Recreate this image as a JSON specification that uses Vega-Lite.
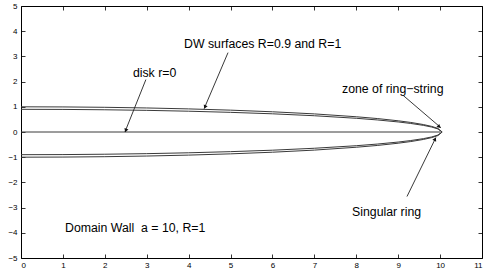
{
  "$schema": "https://vega.github.io/schema/vega-lite/v6.json",
  "width": 461,
  "height": 252,
  "autosize": {"type": "none"},
  "padding": {"left": 21, "top": 6, "right": 9, "bottom": 15},
  "background": "white",
  "config": {
    "view": {"stroke": "black", "strokeWidth": 1},
    "font": "Liberation Sans",
    "axis": {"grid": false, "domain": false, "tickColor": "black", "labelColor": "black", "labelFont": "Liberation Sans", "labelFontSize": 8, "tickSize": -4, "tickWidth": 0.8, "title": null}
  },
  "datasets": {
    "curves": [
      {"series": "R1", "ord": 0, "x": 0, "y": 1.0},
      {"series": "R1", "ord": 1, "x": 1, "y": 0.995},
      {"series": "R1", "ord": 2, "x": 2, "y": 0.980},
      {"series": "R1", "ord": 3, "x": 3, "y": 0.954},
      {"series": "R1", "ord": 4, "x": 4, "y": 0.917},
      {"series": "R1", "ord": 5, "x": 5, "y": 0.867},
      {"series": "R1", "ord": 6, "x": 6, "y": 0.802},
      {"series": "R1", "ord": 7, "x": 7, "y": 0.718},
      {"series": "R1", "ord": 8, "x": 8, "y": 0.605},
      {"series": "R1", "ord": 9, "x": 8.5, "y": 0.534},
      {"series": "R1", "ord": 10, "x": 9, "y": 0.445},
      {"series": "R1", "ord": 11, "x": 9.3, "y": 0.379},
      {"series": "R1", "ord": 12, "x": 9.6, "y": 0.296},
      {"series": "R1", "ord": 13, "x": 9.8, "y": 0.222},
      {"series": "R1", "ord": 14, "x": 9.95, "y": 0.141},
      {"series": "R1", "ord": 15, "x": 10.05, "y": 0},
      {"series": "R1", "ord": 16, "x": 9.95, "y": -0.141},
      {"series": "R1", "ord": 17, "x": 9.8, "y": -0.222},
      {"series": "R1", "ord": 18, "x": 9.6, "y": -0.296},
      {"series": "R1", "ord": 19, "x": 9.3, "y": -0.379},
      {"series": "R1", "ord": 20, "x": 9, "y": -0.445},
      {"series": "R1", "ord": 21, "x": 8.5, "y": -0.534},
      {"series": "R1", "ord": 22, "x": 8, "y": -0.605},
      {"series": "R1", "ord": 23, "x": 7, "y": -0.718},
      {"series": "R1", "ord": 24, "x": 6, "y": -0.802},
      {"series": "R1", "ord": 25, "x": 5, "y": -0.867},
      {"series": "R1", "ord": 26, "x": 4, "y": -0.917},
      {"series": "R1", "ord": 27, "x": 3, "y": -0.954},
      {"series": "R1", "ord": 28, "x": 2, "y": -0.980},
      {"series": "R1", "ord": 29, "x": 1, "y": -0.995},
      {"series": "R1", "ord": 30, "x": 0, "y": -1.0},
      {"series": "R09", "ord": 0, "x": 0, "y": 0.9},
      {"series": "R09", "ord": 1, "x": 1, "y": 0.896},
      {"series": "R09", "ord": 2, "x": 2, "y": 0.882},
      {"series": "R09", "ord": 3, "x": 3, "y": 0.859},
      {"series": "R09", "ord": 4, "x": 4, "y": 0.825},
      {"series": "R09", "ord": 5, "x": 5, "y": 0.780},
      {"series": "R09", "ord": 6, "x": 6, "y": 0.722},
      {"series": "R09", "ord": 7, "x": 7, "y": 0.645},
      {"series": "R09", "ord": 8, "x": 8, "y": 0.544},
      {"series": "R09", "ord": 9, "x": 8.5, "y": 0.479},
      {"series": "R09", "ord": 10, "x": 9, "y": 0.399},
      {"series": "R09", "ord": 11, "x": 9.3, "y": 0.339},
      {"series": "R09", "ord": 12, "x": 9.6, "y": 0.264},
      {"series": "R09", "ord": 13, "x": 9.8, "y": 0.196},
      {"series": "R09", "ord": 14, "x": 9.95, "y": 0.120},
      {"series": "R09", "ord": 15, "x": 10.04, "y": 0},
      {"series": "R09", "ord": 16, "x": 9.95, "y": -0.120},
      {"series": "R09", "ord": 17, "x": 9.8, "y": -0.196},
      {"series": "R09", "ord": 18, "x": 9.6, "y": -0.264},
      {"series": "R09", "ord": 19, "x": 9.3, "y": -0.339},
      {"series": "R09", "ord": 20, "x": 9, "y": -0.399},
      {"series": "R09", "ord": 21, "x": 8.5, "y": -0.479},
      {"series": "R09", "ord": 22, "x": 8, "y": -0.544},
      {"series": "R09", "ord": 23, "x": 7, "y": -0.645},
      {"series": "R09", "ord": 24, "x": 6, "y": -0.722},
      {"series": "R09", "ord": 25, "x": 5, "y": -0.780},
      {"series": "R09", "ord": 26, "x": 4, "y": -0.825},
      {"series": "R09", "ord": 27, "x": 3, "y": -0.859},
      {"series": "R09", "ord": 28, "x": 2, "y": -0.882},
      {"series": "R09", "ord": 29, "x": 1, "y": -0.896},
      {"series": "R09", "ord": 30, "x": 0, "y": -0.9},
      {"series": "disk", "ord": 0, "x": 0, "y": 0},
      {"series": "disk", "ord": 1, "x": 10, "y": 0}
    ],
    "arrows": [
      {"x": 2.98, "y": 2.08, "x2": 2.48, "y2": 0},
      {"x": 4.94, "y": 3.15, "x2": 4.37, "y2": 0.93},
      {"x": 9.12, "y": 1.45, "x2": 10.02, "y2": 0.17},
      {"x": 9.21, "y": -2.56, "x2": 9.9, "y2": -0.22}
    ],
    "labels": [
      {"x": 2.67, "y": 2.36, "text": "disk r=0"},
      {"x": 3.89, "y": 3.51, "text": "DW surfaces R=0.9 and R=1"},
      {"x": 7.66, "y": 1.69, "text": "zone of ring−string"},
      {"x": 7.9, "y": -3.19, "text": "Singular ring"},
      {"x": 1.05, "y": -3.79, "text": "Domain Wall\u00a0 a = 10, R=1"}
    ]
  },
  "layer": [
    {
      "data": {"name": "curves"},
      "mark": {"type": "line", "stroke": "#3a3a3a", "strokeWidth": 1, "clip": true},
      "encoding": {
        "x": {"field": "x", "type": "quantitative", "scale": {"domain": [0, 11], "nice": false, "zero": false},
              "axis": {"orient": "bottom", "values": [0,1,2,3,4,5,6,7,8,9,10,11], "labelPadding": 7}},
        "y": {"field": "y", "type": "quantitative", "scale": {"domain": [-5, 5], "nice": false, "zero": false},
              "axis": {"orient": "left", "values": [-5,-4,-3,-2,-1,0,1,2,3,4,5], "labelPadding": 8}},
        "detail": {"field": "series"},
        "order": {"field": "ord", "type": "quantitative"}
      }
    },
    {
      "data": {"name": "arrows"},
      "mark": {"type": "rule", "stroke": "#222", "strokeWidth": 0.9},
      "encoding": {
        "x": {"field": "x", "type": "quantitative", "axis": {"orient": "top", "values": [0,1,2,3,4,5,6,7,8,9,10,11], "labels": false}},
        "y": {"field": "y", "type": "quantitative", "axis": {"orient": "right", "values": [-5,-4,-3,-2,-1,0,1,2,3,4,5], "labels": false}},
        "x2": {"field": "x2"},
        "y2": {"field": "y2"}
      }
    },
    {
      "data": {"values": [{"x": 2.5, "y": 0.06}]},
      "mark": {"type": "point", "shape": "triangle-up", "filled": true, "color": "#111", "size": 18, "angle": 201.6, "opacity": 1},
      "encoding": {"x": {"field": "x", "type": "quantitative", "axis": null}, "y": {"field": "y", "type": "quantitative", "axis": null}}
    },
    {
      "data": {"values": [{"x": 4.39, "y": 0.99}]},
      "mark": {"type": "point", "shape": "triangle-up", "filled": true, "color": "#111", "size": 18, "angle": 203, "opacity": 1},
      "encoding": {"x": {"field": "x", "type": "quantitative", "axis": null}, "y": {"field": "y", "type": "quantitative", "axis": null}}
    },
    {
      "data": {"values": [{"x": 9.98, "y": 0.21}]},
      "mark": {"type": "point", "shape": "triangle-up", "filled": true, "color": "#111", "size": 18, "angle": 130.8, "opacity": 1},
      "encoding": {"x": {"field": "x", "type": "quantitative", "axis": null}, "y": {"field": "y", "type": "quantitative", "axis": null}}
    },
    {
      "data": {"values": [{"x": 9.88, "y": -0.28}]},
      "mark": {"type": "point", "shape": "triangle-up", "filled": true, "color": "#111", "size": 18, "angle": 26.2, "opacity": 1},
      "encoding": {"x": {"field": "x", "type": "quantitative", "axis": null}, "y": {"field": "y", "type": "quantitative", "axis": null}}
    },
    {
      "data": {"name": "labels"},
      "mark": {"type": "text", "align": "left", "baseline": "middle", "fontSize": 12.3, "font": "Liberation Sans", "color": "black"},
      "encoding": {
        "x": {"field": "x", "type": "quantitative", "axis": null},
        "y": {"field": "y", "type": "quantitative", "axis": null},
        "text": {"field": "text"}
      }
    }
  ],
  "resolve": {"axis": {"x": "independent", "y": "independent"}}
}
